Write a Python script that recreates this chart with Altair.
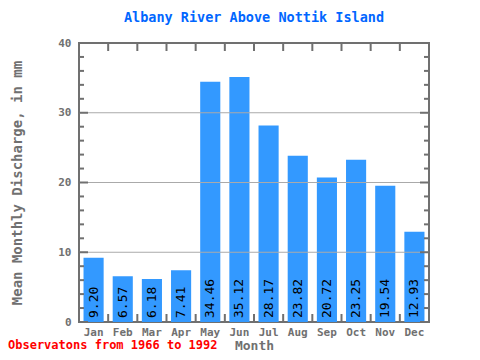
import altair as alt
import pandas as pd

months = ["Jan", "Feb", "Mar", "Apr", "May", "Jun", "Jul", "Aug", "Sep", "Oct", "Nov", "Dec"]
values = [9.20, 6.57, 6.18, 7.41, 34.46, 35.12, 28.17, 23.82, 20.72, 23.25, 19.54, 12.93]
chart_title = "Albany River Above Nottik Island"
y_title = "Mean Monthly Discharge, in mm"
x_title = "Month"
footnote = "Observatons from 1966 to 1992"
y_axis_values = [0, 10, 20, 30, 40]
y_tick_values = list(range(0, 41, 2))
grid_values = [10, 20, 30]

W, H = 350, 279
FONT = "DejaVu Sans Mono"
GRAY = "#707070"

df = pd.DataFrame({"month": months, "value": values})
df["label"] = [f"{v:.2f}" for v in values]
ticks_df = pd.DataFrame({"value": y_tick_values})
grid_df = pd.DataFrame({"value": grid_values})
foot_df = pd.DataFrame({"t": [footnote]})

xscale = alt.Scale(paddingInner=0, paddingOuter=0)
yscale = alt.Scale(domain=[0, 40], nice=False)

x_axis = alt.Axis(
    title=x_title, labelAngle=0, tickSize=0, domain=False, labelPadding=4,
    labelFont=FONT, labelFontSize=11, labelFontWeight="bold", labelColor=GRAY,
    titleFont=FONT, titleFontSize=13, titleFontWeight="bold", titleColor=GRAY,
    titlePadding=2,
)
y_axis = alt.Axis(
    title=y_title, values=y_axis_values, grid=False, tickSize=0, domain=False,
    labelPadding=8, labelFont=FONT, labelFontSize=11, labelFontWeight="bold",
    labelColor=GRAY, titleFont=FONT, titleFontSize=14, titleFontWeight="bold",
    titleColor=GRAY, titlePadding=33,
)

def X(**kw):
    return alt.X("month:N", sort=months, scale=xscale, axis=x_axis, **kw)

def Y():
    return alt.Y("value:Q", scale=yscale, axis=y_axis)

base = alt.Chart(df)

bars = base.mark_bar(color="#3399ff", width=alt.RelativeBandSize(0.69)).encode(x=X(), y=Y())

labels = base.mark_text(
    angle=270, align="left", baseline="middle", dx=4,
    font=FONT, fontSize=13, color="black",
).encode(x=X(), y=alt.value(H), text="label:N")

grid = alt.Chart(grid_df).mark_rule(color="#aaaaaa", strokeWidth=1).encode(
    y=Y(), x=alt.value(0), x2=alt.value(W)
)

minor = alt.Chart(ticks_df).transform_filter("datum.value % 10 != 0")
major = alt.Chart(ticks_df).transform_filter("datum.value % 10 == 0")
tick_style = dict(color=GRAY, strokeWidth=2)
yl_minor = minor.mark_rule(**tick_style).encode(y=Y(), x=alt.value(0), x2=alt.value(5))
yl_major = major.mark_rule(**tick_style).encode(y=Y(), x=alt.value(0), x2=alt.value(9))
yr_minor = minor.mark_rule(**tick_style).encode(y=Y(), x=alt.value(W - 5), x2=alt.value(W))
yr_major = major.mark_rule(**tick_style).encode(y=Y(), x=alt.value(W - 9), x2=alt.value(W))

bounds = base.transform_filter(alt.datum.month != months[0])
xt_top = bounds.mark_rule(**tick_style).encode(x=X(bandPosition=0), y=alt.value(0), y2=alt.value(8))
xt_bot = bounds.mark_rule(**tick_style).encode(x=X(bandPosition=0), y=alt.value(H - 8), y2=alt.value(H))

foot = alt.Chart(foot_df).mark_text(
    align="left", baseline="alphabetic", color="#ff0000", font=FONT,
    fontSize=12, fontWeight="bold",
).encode(x=alt.value(-71), y=alt.value(H + 27), text="t:N")

chart = alt.layer(
    bars, labels, grid, yl_minor, yl_major, yr_minor, yr_major, xt_top, xt_bot, foot
).properties(
    width=W, height=H,
    title=alt.Title(chart_title, font=FONT, fontSize=13.5, fontWeight="bold",
                    color="#0066ff", anchor="middle", offset=13),
    autosize=alt.AutoSizeParams(type="none"),
    padding={"left": 71, "top": 35, "right": 43, "bottom": 30},
).configure_view(stroke=GRAY, strokeWidth=2)

chart.save("out.html", embed_options={"renderer": "svg", "actions": False})
